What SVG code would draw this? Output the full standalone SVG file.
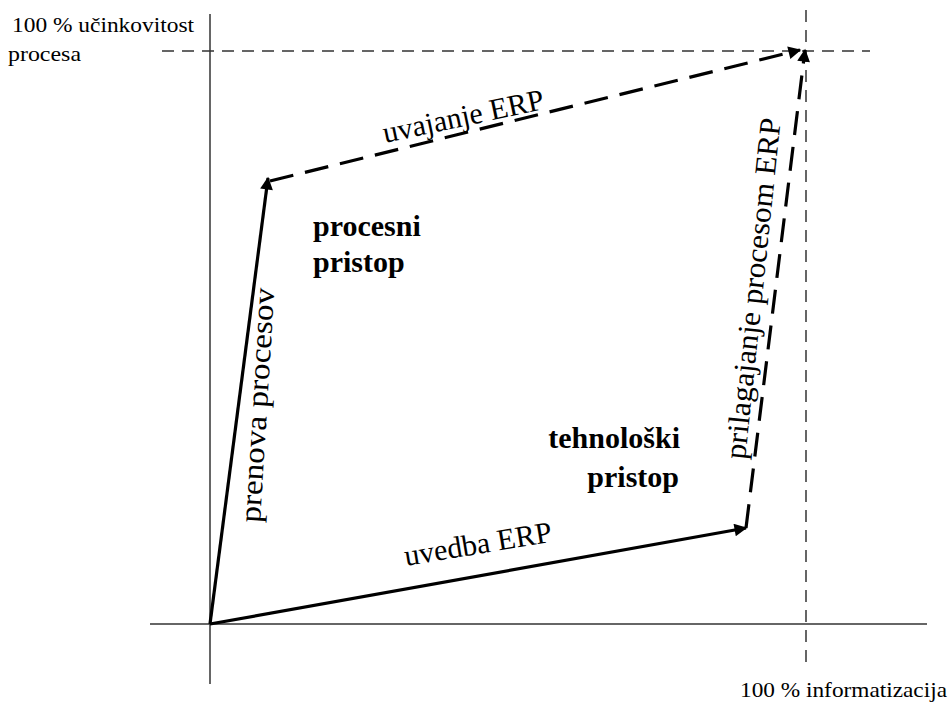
<svg xmlns="http://www.w3.org/2000/svg" width="950" height="704" viewBox="0 0 950 704">
  <defs>
    <marker id="head" viewBox="0 0 10 10" refX="9" refY="5" markerWidth="5" markerHeight="4" orient="auto" markerUnits="strokeWidth">
      <path d="M0,0 L10,5 L0,10 z" fill="#000"/>
    </marker>
    <style>
      .axis { stroke: #333; stroke-width: 1.5; fill: none; }
      .guide { stroke: #333; stroke-width: 1.5; fill: none; stroke-dasharray: 12 8; }
      .path { stroke: #000; stroke-width: 3.2; fill: none; }
      .dash { stroke-dasharray: 24 12; }
      .lbl { font-family: "Liberation Serif", "Times New Roman", serif; fill: #000; }
      .small { font-size: 21px; }
      .big { font-size: 30px; }
      .bold { font-size: 30px; font-weight: bold; }
    </style>
  </defs>

  <!-- axes and 100 % guide lines -->
  <g id="axes">
    <line class="axis" x1="210" y1="14" x2="210" y2="684"/>
    <line class="axis" x1="150" y1="624" x2="927" y2="624"/>
    <line class="guide" x1="162" y1="51" x2="870" y2="51"/>
    <line class="guide" x1="806" y1="10" x2="806" y2="664"/>
  </g>

  <!-- transition arrows -->
  <g id="connectors">
    <line class="path" x1="210" y1="624" x2="268" y2="178" marker-end="url(#head)"/>
    <line class="path dash" x1="270" y1="181" x2="800" y2="50" marker-end="url(#head)"/>
    <line class="path" x1="210" y1="624" x2="746" y2="528" marker-end="url(#head)"/>
    <line class="path dash" x1="746" y1="528" x2="805" y2="50" marker-end="url(#head)"/>
  </g>

  <g id="axis-labels">
    <text class="lbl small" x="12" y="32" textLength="182" lengthAdjust="spacingAndGlyphs">100 % učinkovitost</text>
    <text class="lbl small" x="8" y="61" textLength="73" lengthAdjust="spacingAndGlyphs">procesa</text>
    <text class="lbl small" x="740" y="697" textLength="207" lengthAdjust="spacingAndGlyphs">100 % informatizacija</text>
  </g>

  <g id="edge-labels">
    <text class="lbl big" transform="translate(260,523) rotate(-86.5)" textLength="235" lengthAdjust="spacingAndGlyphs">prenova procesov</text>
    <text class="lbl big" transform="translate(385,143) rotate(-12)">uvajanje ERP</text>
    <text class="lbl big" transform="translate(406,566) rotate(-9.5)">uvedba ERP</text>
    <text class="lbl big" transform="translate(745,460) rotate(-84)" textLength="343" lengthAdjust="spacingAndGlyphs">prilagajanje procesom ERP</text>
  </g>

  <g id="process-approach">
    <text class="lbl bold" x="313" y="236">procesni</text>
    <text class="lbl bold" x="313" y="272">pristop</text>
  </g>

  <g id="technology-approach">
    <text class="lbl bold" x="680" y="448" text-anchor="end">tehnološki</text>
    <text class="lbl bold" x="679" y="487" text-anchor="end">pristop</text>
  </g>
</svg>
